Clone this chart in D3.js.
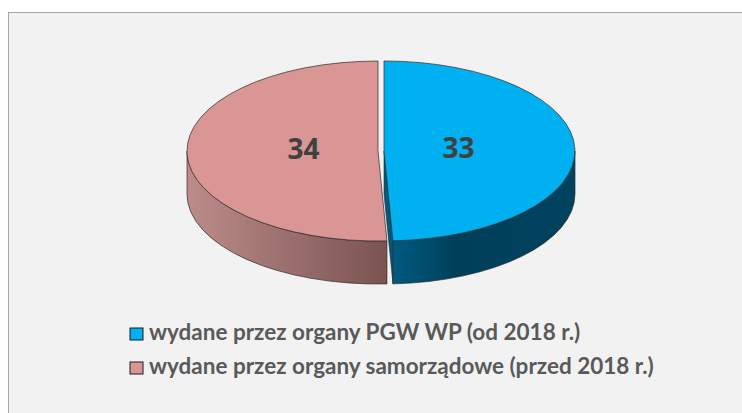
<!DOCTYPE html>
<html lang="pl">

<head>
  <meta charset="UTF-8">
  <title>Pie 3D</title>
  <style>
    body {
      margin: 0;
      background: #ffffff;
    }

    svg {
      display: block;
    }
  </style>
</head>

<body>
  <svg id="chart" width="742" height="413"></svg>

  <script src="https://d3js.org/d3.v7.min.js"></script>
  <script>
    const categories = ["wydane przez organy PGW WP (od 2018 r.)", "wydane przez organy samorządowe (przed 2018 r.)"];
    const values = [33, 34];

    const topColors = ["#00B0F0", "#D99694"];
    const sideColors = [["#005A80", "#003F5A"], ["#BC8C8A", "#7A5351"]];

    const width = 742;
    const height = 413;
    const cx = 381, cy = 151, rx = 191, ry = 90, depth = 43, explode = 3;

    const svg = d3.select("#chart");
    const defs = svg.append("defs");

    // chart area box
    svg.append("rect")
      .attr("x", 8.5)
      .attr("y", 12.5)
      .attr("width", width)
      .attr("height", height)
      .attr("fill", "#F2F2F2")
      .attr("stroke", "#A6A6A6")
      .attr("stroke-width", 1);

    const arcs = d3.pie().sort(null).value(d => d)(values);

    arcs.forEach((d, i) => {
      const mid = (d.startAngle + d.endAngle) / 2;
      d.dx = explode * Math.sin(mid);
      d.dy = -explode * Math.cos(mid) * ry / rx;
      d.mid = mid;
    });

    const pt = (d, a, h = 0) => [cx + d.dx + rx * Math.sin(a), cy + d.dy - ry * Math.cos(a) + h];
    const ctr = (d, h = 0) => [cx + d.dx, cy + d.dy + h];
    const P = p => p[0].toFixed(2) + "," + p[1].toFixed(2);

    const g = svg.append("g");

    // side gradients
    arcs.forEach((d, i) => {
      const a1 = Math.max(d.startAngle, Math.PI / 2);
      const a2 = Math.min(d.endAngle, Math.PI * 1.5);
      const xs = [pt(d, a1)[0], pt(d, a2)[0]];
      const lg = defs.append("linearGradient")
        .attr("id", "side" + i)
        .attr("gradientUnits", "userSpaceOnUse")
        .attr("x1", d3.min(xs)).attr("x2", d3.max(xs))
        .attr("y1", 0).attr("y2", 0);
      if (i === 0) {
        lg.append("stop").attr("offset", "0%").attr("stop-color", sideColors[i][0]);
        lg.append("stop").attr("offset", "35%").attr("stop-color", sideColors[i][1]);
        lg.append("stop").attr("offset", "100%").attr("stop-color", "#00435F");
      } else {
        lg.append("stop").attr("offset", "0%").attr("stop-color", sideColors[i][0]);
        lg.append("stop").attr("offset", "100%").attr("stop-color", sideColors[i][1]);
      }
    });

    // radial walls that face the viewer
    arcs.forEach((d, i) => {
      [[d.endAngle, Math.sin(d.endAngle)], [d.startAngle, -Math.sin(d.startAngle)]].forEach(([a, facing]) => {
        if (facing <= 0.001) return;
        g.append("path")
          .attr("d", "M" + P(ctr(d)) + "L" + P(pt(d, a)) + "L" + P(pt(d, a, depth)) + "L" + P(ctr(d, depth)) + "Z")
          .attr("fill", sideColors[i][0])
          .attr("stroke", "#2b2b2b")
          .attr("stroke-width", 0.6);
      });
    });

    // outer sides (front half only)
    arcs.forEach((d, i) => {
      const a1 = Math.max(d.startAngle, Math.PI / 2);
      const a2 = Math.min(d.endAngle, Math.PI * 1.5);
      if (a1 >= a2) return;
      const path = "M" + P(pt(d, a1)) +
        "A" + rx + "," + ry + " 0 0 1 " + P(pt(d, a2)) +
        "L" + P(pt(d, a2, depth)) +
        "A" + rx + "," + ry + " 0 0 0 " + P(pt(d, a1, depth)) + "Z";
      g.append("path")
        .attr("d", path)
        .attr("fill", "url(#side" + i + ")")
        .attr("stroke", "#2b2b2b")
        .attr("stroke-width", 0.7);
    });

    // tops
    arcs.forEach((d, i) => {
      const large = d.endAngle - d.startAngle > Math.PI ? 1 : 0;
      const path = "M" + P(ctr(d)) + "L" + P(pt(d, d.startAngle)) +
        "A" + rx + "," + ry + " 0 " + large + " 1 " + P(pt(d, d.endAngle)) + "Z";
      g.append("path")
        .attr("d", path)
        .attr("fill", topColors[i])
        .attr("stroke", "#2b2b2b")
        .attr("stroke-width", 0.7);
    });

    // value labels
    g.selectAll(".lbl")
      .data(arcs)
      .enter()
      .append("text")
      .attr("class", "lbl")
      .attr("x", d => cx + d.dx + 0.39 * rx * Math.sin(d.mid))
      .attr("y", d => cy + d.dy - 0.39 * ry * Math.cos(d.mid) + 7.5)
      .attr("text-anchor", "middle")
      .style("font-family", "'Open Sans', Lato, sans-serif")
      .style("font-weight", "bold")
      .style("font-size", "28px")
      .style("fill", "#404040")
      .text(d => d.data);

    // legend
    const legend = svg.append("g");
    const rowY = [328, 362];

    legend.selectAll("rect")
      .data(categories)
      .enter()
      .append("rect")
      .attr("x", 130)
      .attr("y", (d, i) => rowY[i])
      .attr("width", 13)
      .attr("height", 12)
      .attr("fill", (d, i) => topColors[i])
      .attr("stroke", "#1a1a1a")
      .attr("stroke-width", 1);

    const legText = legend.selectAll("text")
      .data(categories)
      .enter()
      .append("text")
      .attr("x", 149)
      .attr("y", (d, i) => rowY[i] + 11.5)
      .style("font-family", "Lato, 'Open Sans', sans-serif")
      .style("font-weight", "bold")
      .style("font-size", "17px")
      .style("fill", "#595959")
      .text(d => d);

    // fit the font to the width of the longer line
    const longest = legText.nodes()[1].getComputedTextLength();
    const fs = 17 * 505 / longest;
    legText.style("font-size", fs.toFixed(2) + "px");
  </script>
</body>

</html>
